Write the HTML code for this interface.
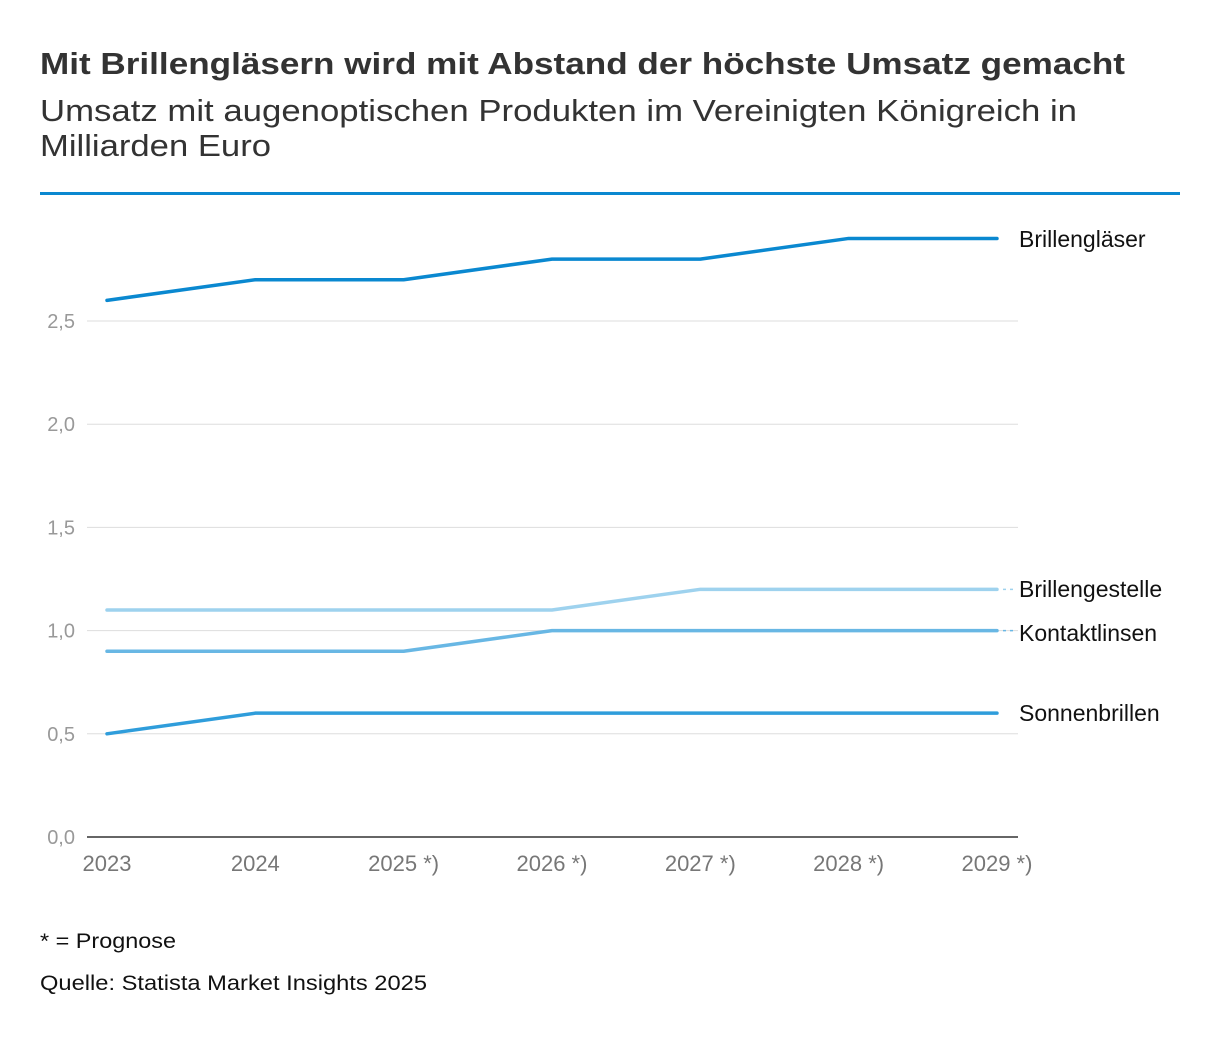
<!DOCTYPE html>
<html><head><meta charset="utf-8"><style>
body{margin:0;background:#fff;width:1220px;height:1038px;overflow:hidden;font-family:"Liberation Sans",sans-serif}
</style></head><body>
<svg width="1220" height="1038" xmlns="http://www.w3.org/2000/svg" font-family="Liberation Sans, sans-serif">
<text x="40" y="74" font-size="31" font-weight="bold" fill="#333" textLength="1085" lengthAdjust="spacingAndGlyphs">Mit Brillengläsern wird mit Abstand der höchste Umsatz gemacht</text>
<text x="40" y="121" font-size="31" fill="#333" textLength="1037" lengthAdjust="spacingAndGlyphs">Umsatz mit augenoptischen Produkten im Vereinigten Königreich in</text>
<text x="40" y="156" font-size="31" fill="#333" textLength="231" lengthAdjust="spacingAndGlyphs">Milliarden Euro</text>
<rect x="40" y="192" width="1140" height="3" fill="#0a88d0"/>
<g id="grid"></g><g id="lines"></g><g id="labels"></g>
<text x="40" y="948" font-size="21" fill="#111" textLength="136" lengthAdjust="spacingAndGlyphs">* = Prognose</text>
<text x="40" y="990" font-size="21" fill="#111" textLength="387" lengthAdjust="spacingAndGlyphs">Quelle: Statista Market Insights 2025</text>
</svg>
<script>
const categories=["2023","2024","2025 *)","2026 *)","2027 *)","2028 *)","2029 *)"];
const yTicks=[0,0.5,1,1.5,2,2.5];
const yTickLabels=["0,0","0,5","1,0","1,5","2,0","2,5"];
const seriesNames=["Brillengläser","Brillengestelle","Kontaktlinsen","Sonnenbrillen"];
const brillenglaeser=[2.6,2.7,2.7,2.8,2.8,2.9,2.9];
const brillengestelle=[1.1,1.1,1.1,1.1,1.2,1.2,1.2];
const kontaktlinsen=[0.9,0.9,0.9,1.0,1.0,1.0,1.0];
const sonnenbrillen=[0.5,0.6,0.6,0.6,0.6,0.6,0.6];
const NS="http://www.w3.org/2000/svg";
const y=v=>837-v*206.4;
const x=i=>107+i*148.33;
function mk(t,a,p){const e=document.createElementNS(NS,t);for(const k in a)e.setAttribute(k,a[k]);document.getElementById(p).appendChild(e);return e;}
yTicks.forEach((v,i)=>{
 if(v>0){const g=mk("line",{x1:87,x2:1018,y1:y(v),y2:y(v),stroke:"#ddd","stroke-width":1},"grid");
 
 }
 const t=mk("text",{x:75,y:y(v)+7,"text-anchor":"end","font-size":20,fill:"#999"},"grid");t.textContent=yTickLabels[i];
 
 
});
const ax=mk("line",{x1:87,x2:1018,y1:837,y2:837,stroke:"#333","stroke-width":1.5},"grid");


categories.forEach((c,i)=>{
 const t=mk("text",{x:x(i),y:871,"text-anchor":"middle","font-size":22,fill:"#777"},"grid");t.textContent=c;
 
 
});
const all=[brillenglaeser,brillengestelle,kontaktlinsen,sonnenbrillen];
const cols=["#0a88d0","#9ed2ee","#68b7e4","#2f9ddb"];
const labY=[240,590,634,714];
all.forEach((d,s)=>{
 const p=mk("polyline",{points:d.map((v,i)=>x(i)+","+y(v)).join(" "),fill:"none",stroke:cols[s],"stroke-width":3.5,"stroke-linejoin":"round","stroke-linecap":"round"},"lines");
 
 
 const ly=labY[s];
 if(s==1 || s==2){const c=mk("line",{x1:1003,x2:1013,y1:y(d[6]),y2:y(d[6]),stroke:cols[s],"stroke-width":1.5,"stroke-dasharray":"3 4"},"lines");
 
 }
 const t=mk("text",{x:1019,y:ly+7,"font-size":23,fill:"#111"},"labels");t.textContent=seriesNames[s];
 
 
});
</script>
</body></html>
